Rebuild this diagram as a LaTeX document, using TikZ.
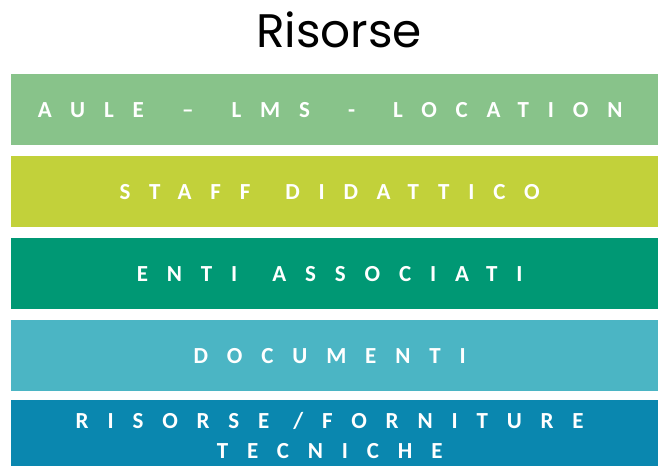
\documentclass[tikz,border=0pt]{standalone}
\usepackage{fontspec}
\setmainfont{Carlito}
\newfontfamily\titlefont{Poppins}
\newfontfamily\barfont[LetterSpace=82]{Carlito Bold}
\definecolor{cA}{HTML}{88C38A}
\definecolor{cB}{HTML}{C2D13A}
\definecolor{cC}{HTML}{009874}
\definecolor{cD}{HTML}{4BB5C4}
\definecolor{cE}{HTML}{0A87AF}
\newcommand{\wsp}{\hspace{14pt}}
\newcommand{\wsq}{\hspace{11pt}}
\begin{document}
\begin{tikzpicture}[x=1pt,y=1pt,
  bar/.style={minimum width=647pt, minimum height=71pt, inner sep=0pt, anchor=north west},
  bartext/.style={inner sep=0pt, text=white, align=center, font=\barfont\fontsize{23}{30}\selectfont}]
\useasboundingbox (0,0) rectangle (659,-466);
\begin{scope}
\clip (0,0) rectangle (659,-466);
\node[anchor=base, font=\titlefont\fontsize{47}{52}\selectfont] (title) at (339,-47) {Risorse};
\node[bar, fill=cA] (b1) at (11,-74) {};
\node[bar, fill=cB] (b2) at (11,-156) {};
\node[bar, fill=cC] (b3) at (11,-238) {};
\node[bar, fill=cD] (b4) at (11,-320) {};
\node[bar, fill=cE] (b5) at (11,-400) {};
\node[bartext] (t1) at ([xshift=-4.5pt]b1.center) {AULE \wsp– \wsp LMS \wsp- \wsp LOCATION};
\node[bartext] (t2) at ([xshift=-5pt]b2.center) {STAFF \wsq DIDATTICO};
\node[bartext] (t3) at ([xshift=-5pt]b3.center) {ENTI \wsq ASSOCIATI};
\node[bartext] (t4) at ([xshift=-5pt]b4.center) {DOCUMENTI};
\node[bartext] (t5) at ([xshift=-5pt]b5.center) {RISORSE /FORNITURE\\TECNICHE};
\end{scope}
\end{tikzpicture}
\end{document}
